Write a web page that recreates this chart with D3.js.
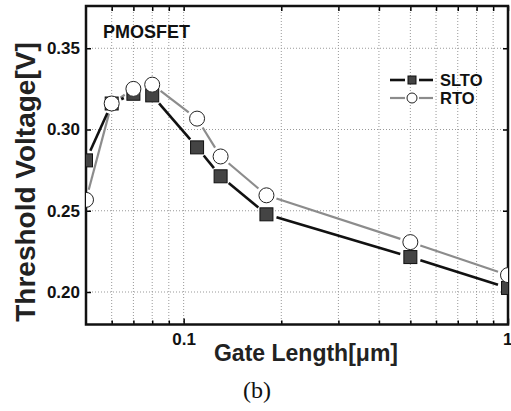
<!DOCTYPE html>
<html><head><meta charset="utf-8">
<script src="https://cdn.jsdelivr.net/npm/d3@7"></script>
<style>body{margin:0;background:#fff}svg{display:block}</style>
</head><body>
<svg id="c" width="511" height="411"></svg>
<script>
const gateLength = [0.05, 0.06, 0.07, 0.08, 0.11, 0.13, 0.18, 0.5, 1.0];
const slto = [0.281, 0.316, 0.322, 0.321, 0.289, 0.2712, 0.2478, 0.2215, 0.2025];
const rto  = [0.2567, 0.316, 0.325, 0.3276, 0.3067, 0.2834, 0.2595, 0.2307, 0.2104];
const yTicks = [0.20, 0.25, 0.30, 0.35];
const xMajor = [0.1, 1];
const xMajorLabels = ["0.1", "1"];
const xMinor = [0.06, 0.07, 0.08, 0.09, 0.2, 0.3, 0.4, 0.5, 0.6, 0.7, 0.8, 0.9];
const seriesNames = ["SLTO", "RTO"];

const svg = d3.select("#c");
const L = 86, R = 508, T = 6, B = 324.5;
const x = d3.scaleLog().domain([0.05, 1]).range([L, R]);
const y = d3.scaleLinear().domain([0.18, 0.376]).range([B, T]);
const font = "'Liberation Sans', Arial, sans-serif";

// grid
const grid = svg.append("g").attr("stroke", "#999").attr("stroke-width", 1).attr("stroke-dasharray", "1,2");
grid.selectAll("line.v").data(xMinor.concat([0.1])).enter().append("line")
  .attr("x1", d => x(d)).attr("x2", d => x(d)).attr("y1", T).attr("y2", B);
grid.selectAll("line.h").data(yTicks).enter().append("line")
  .attr("x1", L).attr("x2", R).attr("y1", d => y(d)).attr("y2", d => y(d));

// axes
function styleAxis(g) {
  g.select(".domain").remove();
  g.selectAll("line").attr("stroke", "#000").attr("stroke-width", 1.5);
  g.selectAll("text").attr("font-family", font).attr("font-weight", "bold").attr("font-size", 17).attr("fill", "#111");
}
svg.append("g").attr("transform", `translate(${L},0)`)
  .call(d3.axisLeft(y).tickValues(yTicks).tickSize(-5).tickPadding(6).tickFormat(d3.format(".2f"))).call(styleAxis);
svg.append("g").attr("transform", `translate(${R},0)`)
  .call(d3.axisRight(y).tickValues(yTicks).tickSize(-5).tickFormat("")).call(styleAxis);
const xb = svg.append("g").attr("transform", `translate(0,${B})`)
  .call(d3.axisBottom(x).tickValues(xMajor).tickSize(-6).tickPadding(8).tickFormat((d, i) => xMajorLabels[i])).call(styleAxis);
xb.selectAll(".tick text").filter(d => d === 1).attr("text-anchor", "end").attr("dx", 4);
svg.append("g").attr("transform", `translate(0,${B})`)
  .call(d3.axisBottom(x).tickValues(xMinor).tickSize(-4).tickFormat("")).call(styleAxis);
svg.append("g").attr("transform", `translate(0,${T})`)
  .call(d3.axisTop(x).tickValues(xMajor.concat(xMinor)).tickSize(-5).tickFormat("")).call(styleAxis);

// frame
svg.append("rect").attr("x", L).attr("y", T).attr("width", R - L).attr("height", B - T)
  .attr("fill", "none").attr("stroke", "#111").attr("stroke-width", 2.5);

const plot = svg.append("g");
svg.append("clipPath").attr("id", "clp").append("rect")
  .attr("x", L).attr("y", T).attr("width", R - L).attr("height", B - T);

// gapped line segments
function segments(vals, gap) {
  const pts = gateLength.map((g, i) => [x(g), y(vals[i])]);
  const out = [];
  for (let i = 0; i < pts.length - 1; i++) {
    const [x1, y1] = pts[i], [x2, y2] = pts[i + 1];
    const dx = x2 - x1, dy = y2 - y1, len = Math.hypot(dx, dy);
    if (len <= 2 * gap) continue;
    const ux = dx / len, uy = dy / len;
    out.push([x1 + ux * gap, y1 + uy * gap, x2 - ux * gap, y2 - uy * gap]);
  }
  return out;
}
plot.selectAll("line.rto").data(segments(rto, 10.5)).enter().append("line")
  .attr("x1", d => d[0]).attr("y1", d => d[1]).attr("x2", d => d[2]).attr("y2", d => d[3])
  .attr("stroke", "#8c8c8c").attr("stroke-width", 2.2);
plot.selectAll("line.slto").data(segments(slto, 10.5)).enter().append("line")
  .attr("x1", d => d[0]).attr("y1", d => d[1]).attr("x2", d => d[2]).attr("y2", d => d[3])
  .attr("stroke", "#111").attr("stroke-width", 2.6);

const marks = svg.append("g").attr("clip-path", "url(#clp)");
const S = 13;
marks.selectAll("rect.sq").data(gateLength).enter().append("rect")
  .attr("x", (d, i) => x(d) - S / 2).attr("y", (d, i) => y(slto[i]) - S / 2)
  .attr("width", S).attr("height", S)
  .attr("fill", "#444").attr("stroke", "#111").attr("stroke-width", 1);
marks.selectAll("circle.rc").data(gateLength).enter().append("circle")
  .attr("cx", d => x(d)).attr("cy", (d, i) => y(rto[i])).attr("r", 7.5)
  .attr("fill", "#fff").attr("stroke", "#222").attr("stroke-width", 1);

// legend
const lg = svg.append("g");
lg.append("line").attr("x1", 390).attr("x2", 405).attr("y1", 80).attr("y2", 80).attr("stroke", "#111").attr("stroke-width", 2.6);
lg.append("line").attr("x1", 419).attr("x2", 433).attr("y1", 80).attr("y2", 80).attr("stroke", "#111").attr("stroke-width", 2.6);
lg.append("rect").attr("x", 408).attr("y", 76).attr("width", 8).attr("height", 8).attr("fill", "#444").attr("stroke", "#111");
lg.append("line").attr("x1", 390).attr("x2", 405).attr("y1", 98).attr("y2", 98).attr("stroke", "#8c8c8c").attr("stroke-width", 2.2);
lg.append("line").attr("x1", 419).attr("x2", 433).attr("y1", 98).attr("y2", 98).attr("stroke", "#8c8c8c").attr("stroke-width", 2.2);
lg.append("circle").attr("cx", 412).attr("cy", 98).attr("r", 5).attr("fill", "#fff").attr("stroke", "#222");
lg.selectAll("text").data(seriesNames).enter().append("text")
  .attr("x", 440).attr("y", (d, i) => 86 + i * 18).text(d => d)
  .attr("font-family", font).attr("font-weight", "bold").attr("font-size", 16.5).attr("fill", "#111");

// labels
svg.append("text").attr("x", 103).attr("y", 38).text("PMOSFET")
  .attr("font-family", font).attr("font-weight", "bold").attr("font-size", 18).attr("fill", "#111");
svg.append("text").attr("transform", "translate(35,182) rotate(-90)").attr("text-anchor", "middle")
  .text("Threshold Voltage[V]")
  .attr("font-family", font).attr("font-weight", "bold").attr("font-size", 28).attr("fill", "#222");
svg.append("text").attr("x", 306).attr("y", 361).attr("text-anchor", "middle")
  .text("Gate Length[μm]")
  .attr("font-family", font).attr("font-weight", "bold").attr("font-size", 23).attr("fill", "#222");
svg.append("text").attr("x", 257).attr("y", 398).attr("text-anchor", "middle").text("(b)")
  .attr("font-family", "'Liberation Serif', 'Times New Roman', serif").attr("font-size", 24).attr("fill", "#111");
</script>
</body></html>
